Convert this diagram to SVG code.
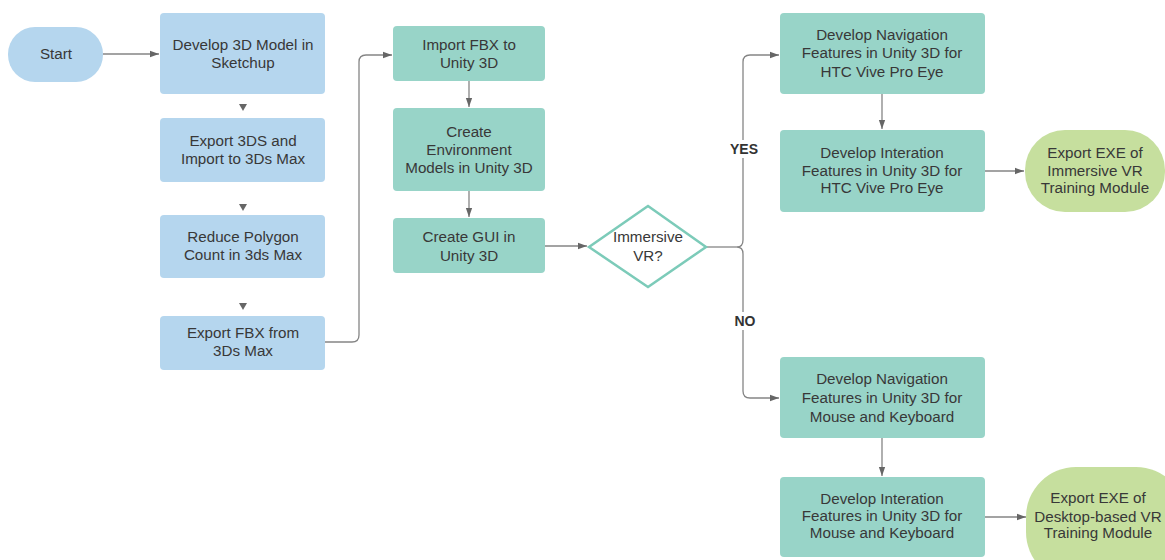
<svg xmlns="http://www.w3.org/2000/svg" width="1165" height="560" viewBox="0 0 1165 560">
<style>
.blue{fill:#b5d6ee}
.teal{fill:#98d4c8}
.green{fill:#c6df9e}
.dia{fill:#ffffff;stroke:#7ccbb9;stroke-width:2.5}
text{font-family:"Liberation Sans",Arial,sans-serif;font-size:15.2px;fill:#383838;text-anchor:middle}
.lbl{font-weight:bold;font-size:14px;fill:#333}
.c{fill:none;stroke:#858585;stroke-width:1.3}
</style>
<defs>
<marker id="ah" viewBox="0 0 10 10" refX="10" refY="5" markerWidth="9" markerHeight="9" markerUnits="userSpaceOnUse" orient="auto">
<path d="M0,1.5 L10,5 L0,8.5 z" fill="#666"/>
</marker>
</defs>
<rect width="1165" height="560" fill="#ffffff"/>
<g id="connectors">
<path class="c" d="M103,54 H159" marker-end="url(#ah)"/>
<path d="M239,104 L247,104 L243,111 z" fill="#666"/>
<path d="M239,204 L247,204 L243,211 z" fill="#666"/>
<path d="M239,303 L247,303 L243,310 z" fill="#666"/>
<path class="c" d="M325,342 H352 Q359,342 359,335 V62 Q359,55 366,55 H392" marker-end="url(#ah)"/>
<path class="c" d="M469,81 V107" marker-end="url(#ah)"/>
<path class="c" d="M469,191 V217" marker-end="url(#ah)"/>
<path class="c" d="M545,246 H587" marker-end="url(#ah)"/>
<path class="c" d="M707,247 H737"/>
<path class="c" d="M743,140 V62 Q743,55 750,55 H779" marker-end="url(#ah)"/>
<path class="c" d="M743,158 V240 Q743,247 737,247 Q743,247 743,254 V312"/>
<path class="c" d="M743,330 V391 Q743,398 750,398 H779" marker-end="url(#ah)"/>
<path class="c" d="M882,94 V129" marker-end="url(#ah)"/>
<path class="c" d="M882,438 V476" marker-end="url(#ah)"/>
<path class="c" d="M985,171 H1024" marker-end="url(#ah)"/>
<path class="c" d="M985,517 H1026" marker-end="url(#ah)"/>
<text class="lbl" x="744" y="154">YES</text>
<text class="lbl" x="745" y="326">NO</text>
</g>
<g id="start">
<rect class="blue" x="8" y="27" width="95" height="55" rx="27"/>
<text x="56" y="59">Start</text>
</g>
<g id="develop3d">
<rect class="blue" x="160" y="13" width="165" height="81" rx="4"/>
<text x="243" y="49.5">Develop 3D Model in</text>
<text x="243" y="67.5">Sketchup</text>
</g>
<g id="export3ds">
<rect class="blue" x="160" y="118" width="165" height="64" rx="4"/>
<text x="243" y="146">Export 3DS and</text>
<text x="243" y="164">Import to 3Ds Max</text>
</g>
<g id="reduce">
<rect class="blue" x="160" y="215" width="165" height="63" rx="4"/>
<text x="243" y="242">Reduce Polygon</text>
<text x="243" y="260">Count in 3ds Max</text>
</g>
<g id="exportfbx">
<rect class="blue" x="160" y="316" width="165" height="54" rx="4"/>
<text x="243" y="338">Export FBX from</text>
<text x="243" y="356">3Ds Max</text>
</g>
<g id="importfbx">
<rect class="teal" x="393" y="26" width="152" height="55" rx="4"/>
<text x="469" y="50">Import FBX to</text>
<text x="469" y="68">Unity 3D</text>
</g>
<g id="createenv">
<rect class="teal" x="393" y="108" width="152" height="83" rx="4"/>
<text x="469" y="137">Create</text>
<text x="469" y="155">Environment</text>
<text x="469" y="173">Models in Unity 3D</text>
</g>
<g id="creategui">
<rect class="teal" x="393" y="218" width="152" height="55" rx="4"/>
<text x="469" y="242">Create GUI in</text>
<text x="469" y="261">Unity 3D</text>
</g>
<g id="decision">
<path class="dia" d="M648,206 L706,247 L648,287 L589,247 z"/>
<text x="648" y="242">Immersive</text>
<text x="648" y="261">VR?</text>
</g>
<g id="navhtc">
<rect class="teal" x="780" y="13" width="205" height="81" rx="4"/>
<text x="882" y="40">Develop Navigation</text>
<text x="882" y="58">Features in Unity 3D for</text>
<text x="882" y="77">HTC Vive Pro Eye</text>
</g>
<g id="interhtc">
<rect class="teal" x="780" y="130" width="205" height="82" rx="4"/>
<text x="882" y="158">Develop Interation</text>
<text x="882" y="176">Features in Unity 3D for</text>
<text x="882" y="193">HTC Vive Pro Eye</text>
</g>
<g id="exportvr">
<rect class="green" x="1025" y="130" width="140" height="82" rx="40"/>
<text x="1095" y="158">Export EXE of</text>
<text x="1095" y="176">Immersive VR</text>
<text x="1095" y="193">Training Module</text>
</g>
<g id="navmouse">
<rect class="teal" x="780" y="357" width="205" height="81" rx="4"/>
<text x="882" y="384">Develop Navigation</text>
<text x="882" y="403">Features in Unity 3D for</text>
<text x="882" y="422">Mouse and Keyboard</text>
</g>
<g id="intermouse">
<rect class="teal" x="780" y="477" width="205" height="80" rx="4"/>
<text x="882" y="504">Develop Interation</text>
<text x="882" y="521">Features in Unity 3D for</text>
<text x="882" y="538">Mouse and Keyboard</text>
</g>
<g id="exportdesktop">
<rect class="green" x="1026" y="467" width="160" height="115" rx="50"/>
<text x="1098" y="503">Export EXE of</text>
<text x="1098" y="522">Desktop-based VR</text>
<text x="1098" y="538">Training Module</text>
</g>
</svg>
